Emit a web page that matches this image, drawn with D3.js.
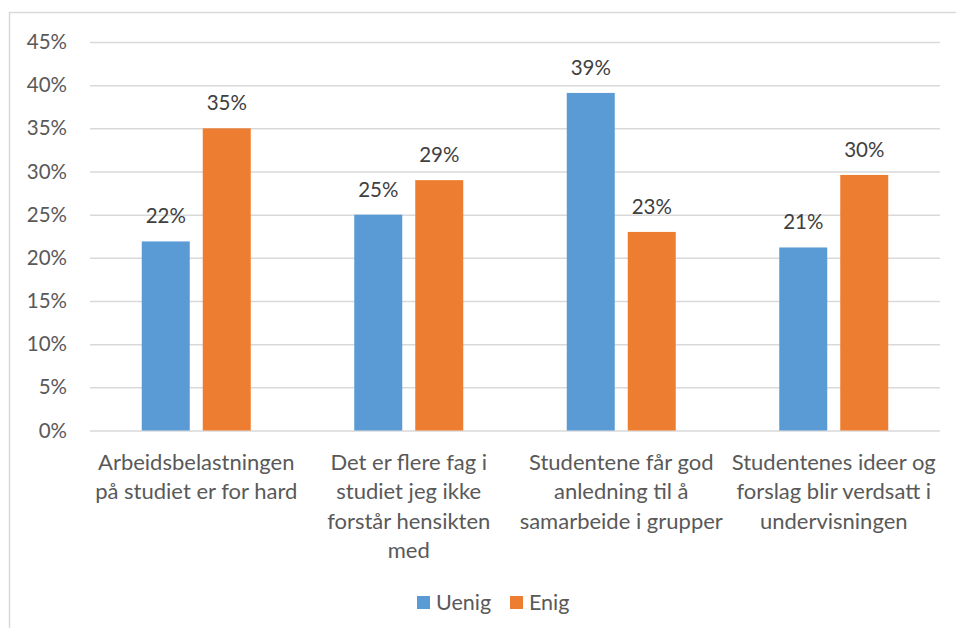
<!DOCTYPE html>
<html>
<head>
<meta charset="utf-8">
<script src="https://cdn.jsdelivr.net/npm/d3@7"></script>
<style>
  body { margin: 0; background: #fff; }
  svg { display: block; font-family: Lato, "Open Sans", sans-serif; }
</style>
</head>
<body>
<script>
// Chart data
const categories = [
  ["Arbeidsbelastningen", "på studiet er for hard"],
  ["Det er flere fag i", "studiet jeg ikke", "forstår hensikten", "med"],
  ["Studentene får god", "anledning til å", "samarbeide i grupper"],
  ["Studentenes ideer og", "forslag blir verdsatt i", "undervisningen"]
];
const seriesNames = ["Uenig", "Enig"];
const uenig = [0.219, 0.25, 0.391, 0.212];
const enig = [0.35, 0.29, 0.23, 0.296];
const valueLabels = [["22%", "25%", "39%", "21%"], ["35%", "29%", "23%", "30%"]];
const yTicks = [0, 0.05, 0.10, 0.15, 0.20, 0.25, 0.30, 0.35, 0.40, 0.45];
const colors = ["#5b9bd5", "#ed7d31"];

const w = 956, h = 628;
const plot = { left: 90, right: 940, top: 42, bottom: 430.5 };

const svg = d3.select("body").append("svg")
  .attr("width", w)
  .attr("height", h);

// outer chart border
svg.append("path")
  .attr("d", `M9.5,${h} V12.5 H${w}`)
  .attr("fill", "none")
  .attr("stroke", "#d9d9d9")
  .attr("stroke-width", 1.5);

const idx = d3.range(categories.length);

const x0 = d3.scaleBand()
  .domain(idx)
  .range([plot.left, plot.right]);

const x1 = d3.scaleBand()
  .domain(seriesNames)
  .range([-54.5, 54.5])
  .paddingInner(13 / 61);

const y = d3.scaleLinear()
  .domain([0, 0.45])
  .range([plot.bottom, plot.top]);

// gridlines
const yAxis = d3.axisLeft(y)
  .tickValues(yTicks)
  .tickSize(-(plot.right - plot.left))
  .tickPadding(23)
  .tickFormat(d3.format(".0%"));

const gy = svg.append("g")
  .attr("transform", `translate(${plot.left},0)`)
  .call(yAxis);
gy.select(".domain").remove();
gy.selectAll(".tick line")
  .attr("stroke", "#d9d9d9")
  .attr("stroke-width", 1.5);
gy.selectAll(".tick text")
  .attr("fill", "#595959")
  .style("font-size", "20.5px")
  .style("font-family", "Lato, sans-serif");

// bars
const seriesData = [uenig, enig];
seriesNames.forEach((name, s) => {
  const g = svg.append("g");
  g.selectAll("rect")
    .data(seriesData[s])
    .join("rect")
    .attr("x", (d, i) => x0(i) + x0.bandwidth() / 2 + x1(name))
    .attr("y", d => y(d))
    .attr("width", x1.bandwidth())
    .attr("height", d => y(0) - y(d))
    .attr("fill", colors[s]);

  g.selectAll("text")
    .data(seriesData[s])
    .join("text")
    .attr("x", (d, i) => x0(i) + x0.bandwidth() / 2 + x1(name) + x1.bandwidth() / 2)
    .attr("y", d => y(d) - 18)
    .attr("text-anchor", "middle")
    .attr("fill", "#404040")
    .style("font-size", "20.5px")
    .text((d, i) => valueLabels[s][i]);
});

// category labels
const cat = svg.append("g");
categories.forEach((lines, i) => {
  const t = cat.append("text")
    .attr("text-anchor", "middle")
    .attr("fill", "#595959")
    .style("font-size", "22px");
  lines.forEach((line, k) => {
    t.append("tspan")
      .attr("x", x0(i) + x0.bandwidth() / 2)
      .attr("y", 470 + k * 29.3)
      .text(line);
  });
});

// legend
const legend = svg.append("g");
const legendX = [417, 510];
seriesNames.forEach((name, s) => {
  legend.append("rect")
    .attr("x", legendX[s])
    .attr("y", 596)
    .attr("width", 13)
    .attr("height", 13)
    .attr("fill", colors[s]);
  legend.append("text")
    .attr("x", legendX[s] + 19)
    .attr("y", 610)
    .attr("fill", "#595959")
    .style("font-size", "21.5px")
    .text(name);
});
</script>
</body>
</html>
